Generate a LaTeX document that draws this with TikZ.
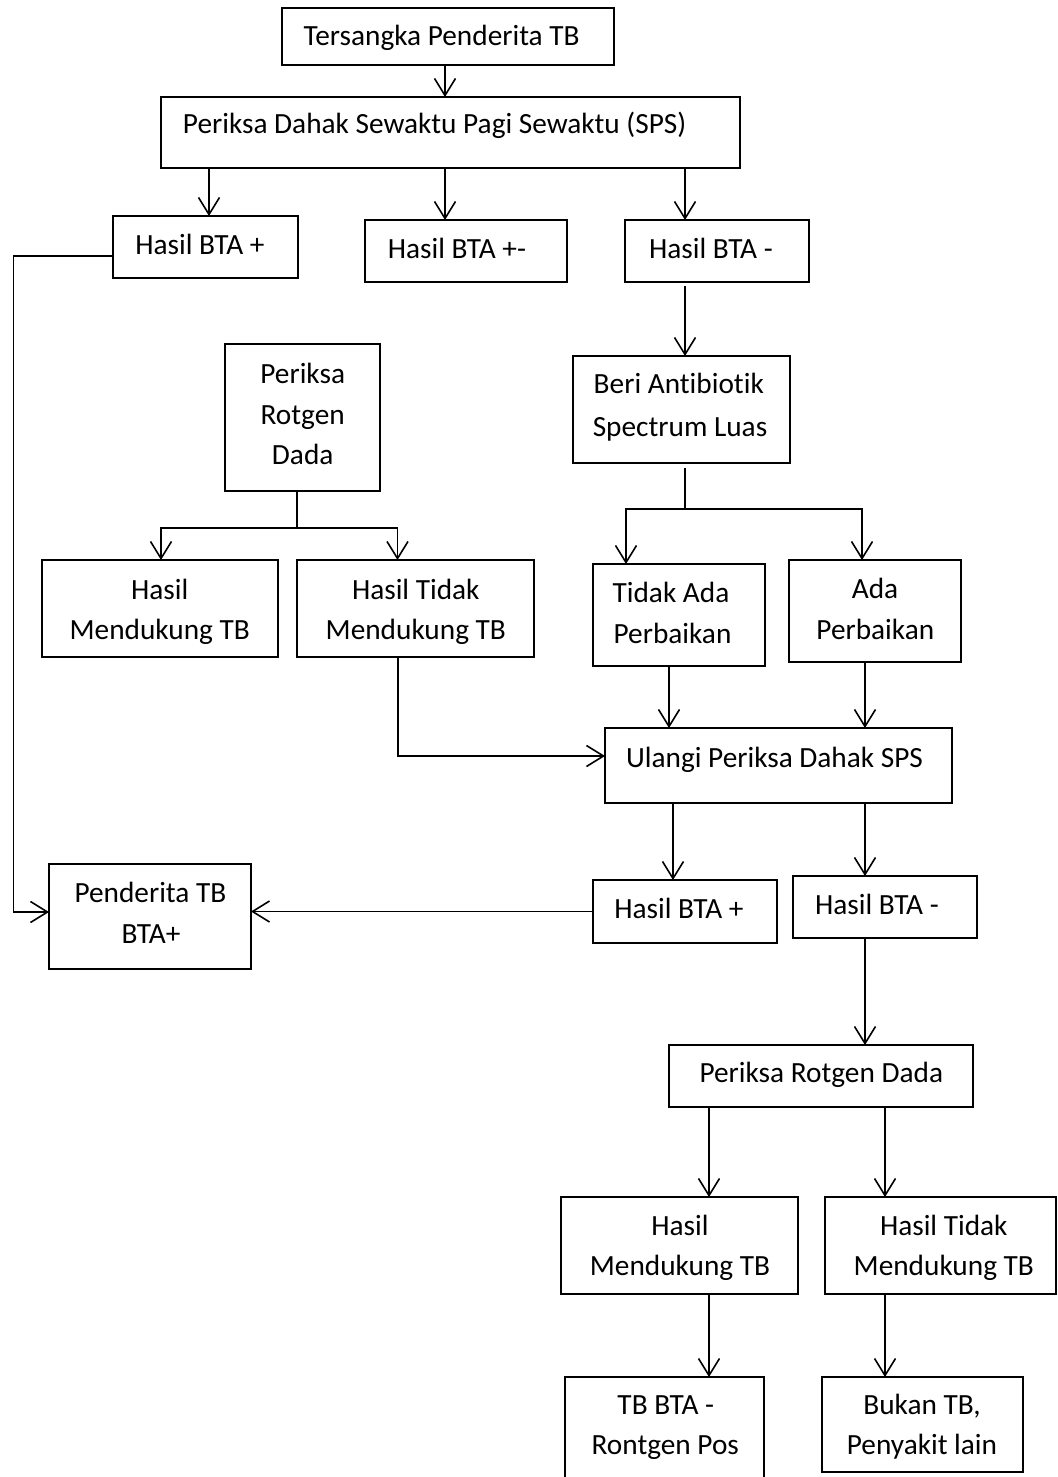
\documentclass[tikz,border=0pt]{standalone}
\usepackage{fontspec}
\setmainfont[Ligatures={NoCommon,NoRare,NoContextual}]{Carlito}
\usetikzlibrary{arrows.meta}
\tikzset{
  box/.style={draw=black, line width=1.5pt, rectangle, inner sep=0pt, outer sep=0pt},
  txt/.style={inner sep=0pt, anchor=base, font=\fontsize{29.3}{41}\selectfont},
  arr/.style={line width=1.7pt, -{Straight Barb[length=17pt,width=21pt,line width=1.6pt]}}
}
\begin{document}
\begin{tikzpicture}[x=1pt,y=-1pt]
\useasboundingbox (0,0) rectangle (1057,1477);
% boxes
\node[box, anchor=north west, minimum width=332pt, minimum height=57pt] (ters) at (282,8) {};
\node[box, anchor=north west, minimum width=579pt, minimum height=71pt] (sps) at (161,97) {};
\node[box, anchor=north west, minimum width=185pt, minimum height=62pt] (hb1) at (113,216) {};
\node[box, anchor=north west, minimum width=202pt, minimum height=62pt] (hb2) at (365,220) {};
\node[box, anchor=north west, minimum width=184pt, minimum height=62pt] (hb3) at (625,220) {};
\node[box, anchor=north west, minimum width=155pt, minimum height=147pt] (prd) at (225,344) {};
\node[box, anchor=north west, minimum width=236pt, minimum height=97pt] (hm1) at (42,560) {};
\node[box, anchor=north west, minimum width=237pt, minimum height=97pt] (htm1) at (297,560) {};
\node[box, anchor=north west, minimum width=217pt, minimum height=107pt] (beri) at (573,356) {};
\node[box, anchor=north west, minimum width=172pt, minimum height=102pt] (tidak) at (593,564) {};
\node[box, anchor=north west, minimum width=172pt, minimum height=102pt] (ada) at (789,560) {};
\node[box, anchor=north west, minimum width=347pt, minimum height=75pt] (ulangi) at (605,728) {};
\node[box, anchor=north west, minimum width=202pt, minimum height=105pt] (pen) at (49,864) {};
\node[box, anchor=north west, minimum width=184pt, minimum height=63pt] (hb4) at (593,880) {};
\node[box, anchor=north west, minimum width=184pt, minimum height=62pt] (hb5) at (793,876) {};
\node[box, anchor=north west, minimum width=304pt, minimum height=62pt] (prd2) at (669,1045) {};
\node[box, anchor=north west, minimum width=237pt, minimum height=97pt] (hm2) at (561,1197) {};
\node[box, anchor=north west, minimum width=231pt, minimum height=97pt] (htm2) at (825,1197) {};
\node[box, anchor=north west, minimum width=199pt, minimum height=103pt] (tbb) at (565,1377) {};
\node[box, anchor=north west, minimum width=201pt, minimum height=95pt] (bukan) at (822,1377) {};
% texts
\node[txt] (t-ters) at (441.6,46) {Tersangka Penderita TB};
\node[txt] (t-sps) at (434.6,134) {Periksa Dahak Sewaktu Pagi Sewaktu (SPS)};
\node[txt] (t-hb1) at (200,254) {Hasil BTA +};
\node[txt] (t-hb2) at (457,258) {Hasil BTA +-};
\node[txt] (t-hb3) at (711,258) {Hasil BTA -};
\node[txt] (t-prd-a) at (302.7,383.3) {Periksa};
\node[txt] (t-prd-b) at (302.7,424) {Rotgen};
\node[txt] (t-prd-c) at (302.7,464.3) {Dada};
\node[txt] (t-hm1-a) at (159.7,599) {Hasil};
\node[txt] (t-hm1-b) at (159.7,639.3) {Mendukung TB};
\node[txt] (t-htm1-a) at (415.8,599) {Hasil Tidak};
\node[txt] (t-htm1-b) at (415.8,639.3) {Mendukung TB};
\node[txt] (t-beri-a) at (678.8,393.3) {Beri Antibiotik};
\node[txt] (t-beri-b) at (680,436) {Spectrum Luas};
\node[txt] (t-tidak-a) at (671,602.7) {Tidak Ada};
\node[txt] (t-tidak-b) at (672.5,643.3) {Perbaikan};
\node[txt] (t-ada-a) at (875,598.3) {Ada};
\node[txt] (t-ada-b) at (875.3,639.3) {Perbaikan};
\node[txt] (t-ulangi) at (774.5,767.3) {Ulangi Periksa Dahak SPS};
\node[txt] (t-hb4) at (679,918.3) {Hasil BTA +};
\node[txt] (t-hb5) at (877,914.3) {Hasil BTA -};
\node[txt] (t-pen-a) at (150.4,902.7) {Penderita TB};
\node[txt] (t-pen-b) at (151,943.3) {BTA+};
\node[txt] (t-prd2) at (821.3,1082.7) {Periksa Rotgen Dada};
\node[txt] (t-hm2-a) at (680,1235) {Hasil};
\node[txt] (t-hm2-b) at (680,1275.7) {Mendukung TB};
\node[txt] (t-htm2-a) at (943.8,1235) {Hasil Tidak};
\node[txt] (t-htm2-b) at (943.8,1275.7) {Mendukung TB};
\node[txt] (t-tbb-a) at (665.8,1414) {TB BTA -};
\node[txt] (t-tbb-b) at (665.3,1454.3) {Rontgen Pos};
\node[txt] (t-bukan-a) at (922,1414) {Bukan TB,};
\node[txt] (t-bukan-b) at (922,1454.3) {Penyakit lain};
% column coordinates
\coordinate (c445) at (445,0);
\coordinate (c209) at (209,0);
\coordinate (c685) at (685,0);
\coordinate (lc) at (13.6,912);
\coordinate (j1) at (297,528);
\coordinate (j1l) at (161,528);
\coordinate (j1r) at (397.5,528);
\coordinate (c398) at (398,0);
\coordinate (j2) at (685,509);
\coordinate (j2l) at (626,509);
\coordinate (j2r) at (862,509);
\coordinate (c669) at (669,0);
\coordinate (c865) at (865,0);
\coordinate (c673) at (673,0);
\coordinate (c709) at (709,0);
\coordinate (c885) at (885,0);
% connectors
\draw[arr] (ters.south -| c445) -- (sps.north -| c445);
\draw[arr] (sps.south -| c209) -- (hb1.north -| c209);
\draw[arr] (sps.south -| c445) -- (hb2.north -| c445);
\draw[arr] (sps.south -| c685) -- (hb3.north -| c685);
\draw[arr] ([yshift=-4pt]hb3.south -| c685) -- (beri.north -| c685);
\draw[arr] ([yshift=-9pt]hb1.west) -| (lc) -- (pen.west |- lc);
\draw[arr] (prd.south -| j1) -- (j1) -- (j1l) -- (hm1.north -| j1l);
\draw[arr] (prd.south -| j1) -- (j1) -- (j1r) -- (htm1.north -| j1r);
\draw[arr] (htm1.south -| c398) |- ([yshift=9.5pt]ulangi.west);
\draw[arr] ([yshift=-5pt]beri.south -| j2) -- (j2) -- (j2l) -- (tidak.north -| j2l);
\draw[arr] ([yshift=-5pt]beri.south -| j2) -- (j2) -- (j2r) -- (ada.north -| j2r);
\draw[arr] (tidak.south -| c669) -- (ulangi.north -| c669);
\draw[arr] (ada.south -| c865) -- (ulangi.north -| c865);
\draw[arr] (ulangi.south -| c673) -- (hb4.north -| c673);
\draw[arr] (ulangi.south -| c865) -- (hb5.north -| c865);
\draw[arr] (hb4.west) -- (pen.east |- hb4.west);
\draw[arr] (hb5.south -| c865) -- (prd2.north -| c865);
\draw[arr] (prd2.south -| c709) -- (hm2.north -| c709);
\draw[arr] (prd2.south -| c885) -- (htm2.north -| c885);
\draw[arr] (hm2.south -| c709) -- (tbb.north -| c709);
\draw[arr] (htm2.south -| c885) -- (bukan.north -| c885);
\end{tikzpicture}
\end{document}
